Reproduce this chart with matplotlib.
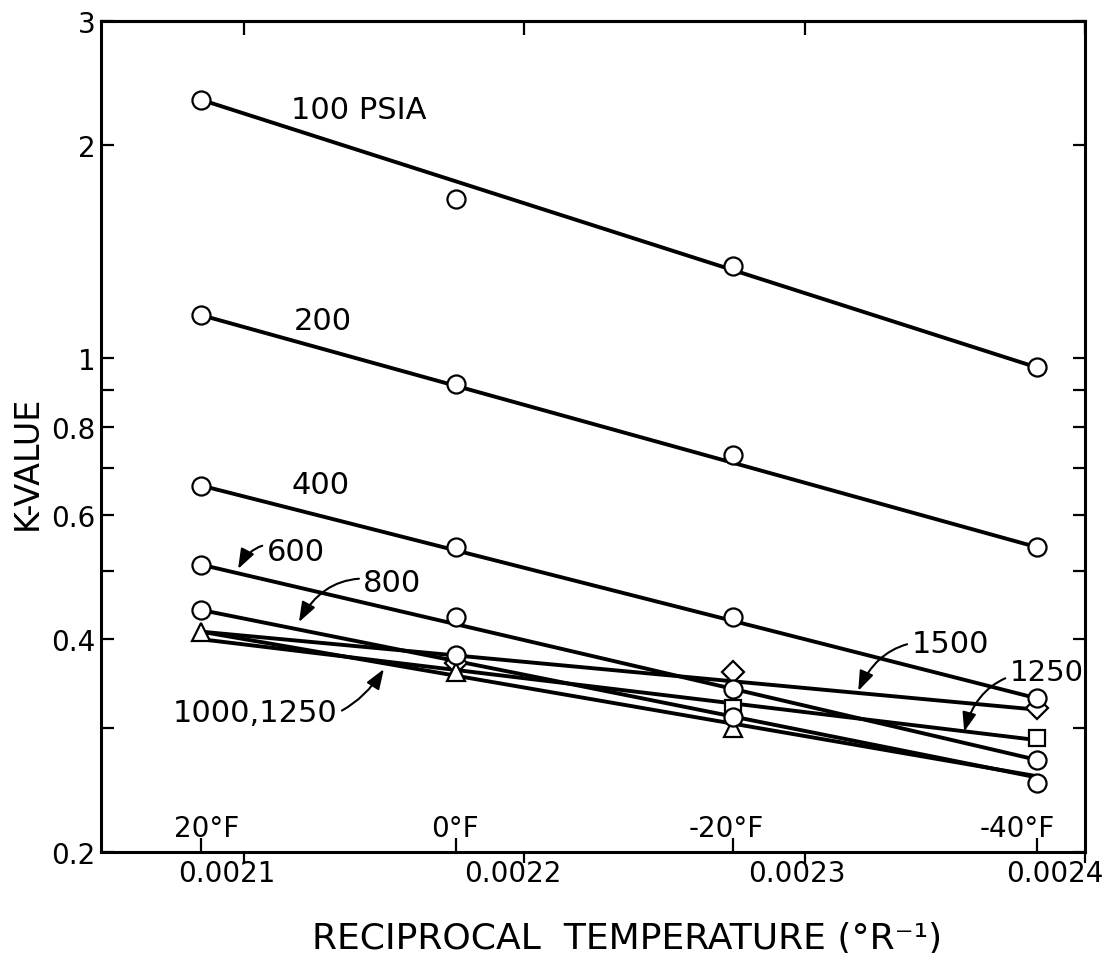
import numpy as np
import matplotlib
matplotlib.use('Agg')
import matplotlib.pyplot as plt
from matplotlib.ticker import FixedLocator, NullFormatter, FixedFormatter

# temperatures of the isotherms and the reciprocal absolute temperature
temps_f = np.array([20, 0, -20, -40])
recip_t = 1.0 / (temps_f + 459.67)
temp_labels = ['20°F', '0°F', '-20°F', '-40°F']

# measured K-values (nan = point hidden under another symbol)
nan = np.nan
k_100 = [2.32, 1.68, 1.35, 0.97]
k_200 = [1.15, 0.92, 0.73, 0.54]
k_400 = [0.66, 0.54, 0.43, 0.33]
k_600 = [0.51, 0.43, 0.34, 0.27]
k_800 = [0.44, 0.38, 0.31, 0.25]
k_1000 = [0.41, 0.36, 0.30, nan]
k_1250 = [nan, nan, 0.32, 0.29]
k_1500 = [nan, 0.37, 0.36, 0.32]

# straight lines drawn through each isobar, value at 20F and at -40F
fit_100 = [2.32, 0.97]
fit_200 = [1.15, 0.54]
fit_400 = [0.66, 0.33]
fit_600 = [0.51, 0.27]
fit_800 = [0.44, 0.255]
fit_1000 = [0.41, 0.256]
fit_1250 = [0.40, 0.288]
fit_1500 = [0.41, 0.318]

y_major = [0.2, 0.4, 0.6, 0.8, 1, 2, 3]
y_major_labels = ['0.2', '0.4', '0.6', '0.8', '1', '2', '3']
y_minor = [0.3, 0.5, 0.7, 0.9]
x_ticks = [0.0021, 0.0022, 0.0023, 0.0024]
x_tick_labels = ['0.0021', '0.0022', '0.0023', '0.0024']

# drawn back to front so the circles sit on top of the other symbols
series = [
    (k_1500, fit_1500, 'D'),
    (k_1250, fit_1250, 's'),
    (k_1000, fit_1000, '^'),
    (k_800, fit_800, 'o'),
    (k_600, fit_600, 'o'),
    (k_400, fit_400, 'o'),
    (k_200, fit_200, 'o'),
    (k_100, fit_100, 'o'),
]

plt.rcParams['font.family'] = 'DejaVu Sans'

fig = plt.figure(figsize=(11.17, 9.54), dpi=100)
ax = fig.add_axes([0.0904, 0.1059, 0.881, 0.8711])

line_ends = [recip_t[0], recip_t[-1]]
for k, fit, mk in series:
    ax.plot(line_ends, fit, color='black', lw=2.8, solid_capstyle='butt', zorder=2)
z = 3
for k, fit, mk in series:
    size = {'o': 13, '^': 13, 's': 12, 'D': 11}[mk]
    ax.plot(recip_t, k, ls='none', marker=mk, ms=size, mfc='white', mec='black',
            mew=1.6, zorder=z)
    z += 0.1

ax.set_yscale('log')
ax.set_ylim(0.2, 3)
ax.set_xlim(0.002049, 0.0024)

ax.yaxis.set_major_locator(FixedLocator(y_major))
ax.yaxis.set_major_formatter(FixedFormatter(y_major_labels))
ax.yaxis.set_minor_locator(FixedLocator(y_minor))
ax.yaxis.set_minor_formatter(NullFormatter())
ax.tick_params(axis='y', which='both', direction='in', right=True, length=9, width=1.6,
               labelsize=20, pad=4)

# reciprocal temperature ticks (outward, labels shifted below) and temperature ticks (inward)
ax.xaxis.set_major_locator(FixedLocator(x_ticks))
ax.xaxis.set_major_formatter(NullFormatter())
ax.xaxis.set_minor_locator(FixedLocator(recip_t))
ax.xaxis.set_minor_formatter(NullFormatter())
ax.tick_params(axis='x', which='major', direction='out', length=8, width=1.6)
ax.tick_params(axis='x', which='minor', direction='in', length=10, width=1.6)
top = ax.secondary_xaxis('top')
top.set_xticks(x_ticks)
top.tick_params(direction='in', length=10, width=1.6, labeltop=False)
top.spines['top'].set_linewidth(2.2)

for s in ax.spines.values():
    s.set_linewidth(2.2)

for v, lbl, dx in zip(x_ticks, x_tick_labels, [-17, -12, -8, -30]):
    ax.annotate(lbl, xy=(v, 0), xycoords=('data', 'axes fraction'), xytext=(dx, -21),
                textcoords='offset pixels', ha='center', va='center', fontsize=20)
for v, lbl, dx in zip(recip_t, temp_labels, [5, -1, -7, -20]):
    ax.annotate(lbl, xy=(v, 0), xycoords=('data', 'axes fraction'), xytext=(dx, 24),
                textcoords='offset pixels', ha='center', va='center', fontsize=20)

# isobar labels
ax.text(0.0021168, 2.25, '100 PSIA', fontsize=22, ha='left', va='center')
ax.text(0.0021178, 1.129, '200', fontsize=22, ha='left', va='center')
ax.text(0.0021168, 0.663, '400', fontsize=22, ha='left', va='center')

arrow = dict(arrowstyle='-|>,head_length=0.55,head_width=0.2', color='black', lw=1.5,
             shrinkA=1, shrinkB=0)
ax.annotate('600', xy=(0.0020979, 0.503), xytext=(0.0021080, 0.533), fontsize=22,
            ha='left', va='center',
            arrowprops=dict(arrow, connectionstyle='arc3,rad=0.5'))
ax.annotate('800', xy=(0.0021196, 0.423), xytext=(0.0021425, 0.481), fontsize=22,
            ha='left', va='center',
            arrowprops=dict(arrow, connectionstyle='arc3,rad=0.4'))
ax.annotate('1000,1250', xy=(0.0021499, 0.363), xytext=(0.0021335, 0.315), fontsize=22,
            ha='right', va='center',
            arrowprops=dict(arrow, connectionstyle='arc3,rad=0.4'))
ax.annotate('1500', xy=(0.0023191, 0.338), xytext=(0.0023380, 0.394), fontsize=22,
            ha='left', va='center',
            arrowprops=dict(arrow, connectionstyle='arc3,rad=0.4'))
ax.annotate('1250', xy=(0.0023569, 0.296), xytext=(0.0023730, 0.360), fontsize=21,
            ha='left', va='center',
            arrowprops=dict(arrow, connectionstyle='arc3,rad=0.4'))

fig.text(0.024, 0.515, 'K-VALUE', rotation=90, fontsize=24, ha='center', va='center')
fig.text(0.561, 0.0157, 'RECIPROCAL  TEMPERATURE (°R⁻¹)', fontsize=26, ha='center',
         va='center')

fig.savefig('out.png', dpi=100)
